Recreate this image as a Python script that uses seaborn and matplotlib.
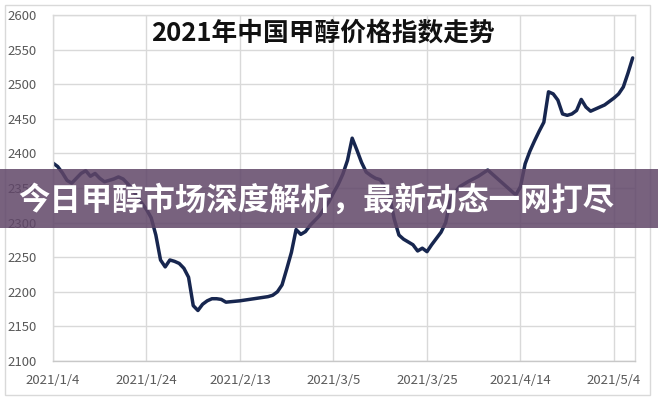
import matplotlib
matplotlib.use("Agg")
import matplotlib.pyplot as plt
from matplotlib.patches import Rectangle
import seaborn as sns
import pandas as pd

title = "2021年中国甲醇价格指数走势"
banner = "今日甲醇市场深度解析，最新动态一网打尽"

dates = ["01-04", "01-05", "01-06", "01-07", "01-08", "01-09", "01-10", "01-11", "01-12", "01-13",
         "01-14", "01-15", "01-16", "01-17", "01-18", "01-19", "01-20", "01-21", "01-22", "01-23",
         "01-24", "01-25", "01-26", "01-27", "01-28", "01-29", "01-30", "01-31", "02-01", "02-02",
         "02-03", "02-04", "02-05", "02-06", "02-07", "02-08", "02-09", "02-10", "02-13", "02-16",
         "02-19", "02-20", "02-21", "02-22", "02-23", "02-24", "02-25", "02-26", "02-27", "02-28",
         "03-01", "03-02", "03-03", "03-04", "03-05", "03-06", "03-07", "03-08", "03-09", "03-10",
         "03-11", "03-12", "03-13", "03-14", "03-15", "03-16", "03-17", "03-18", "03-19", "03-20",
         "03-21", "03-22", "03-23", "03-24", "03-25", "03-26", "03-27", "03-28", "03-29", "03-30",
         "03-31", "04-01", "04-03", "04-05", "04-07", "04-09", "04-11", "04-13", "04-14", "04-15",
         "04-16", "04-17", "04-18", "04-19", "04-20", "04-21", "04-22", "04-23", "04-24", "04-25",
         "04-26", "04-27", "04-28", "04-29", "04-30", "05-02", "05-04", "05-05", "05-06", "05-07",
         "05-08"]
values = [2386, 2381, 2372, 2361, 2357, 2364, 2371, 2375, 2367, 2371,
          2364, 2359, 2361, 2363, 2366, 2363, 2356, 2348, 2338, 2328,
          2319, 2307, 2282, 2246, 2236, 2246, 2244, 2241, 2234, 2221,
          2180, 2173, 2182, 2187, 2190, 2190, 2189, 2185, 2187, 2190,
          2193, 2195, 2200, 2210, 2233, 2257, 2290, 2283, 2287, 2296,
          2303, 2310, 2320, 2330, 2343, 2355, 2370, 2390, 2422, 2405,
          2387, 2373, 2368, 2364, 2362, 2352, 2338, 2305, 2282, 2276,
          2272, 2268, 2259, 2263, 2258, 2268, 2277, 2286, 2300, 2333,
          2344, 2352, 2360, 2367, 2376, 2364, 2352, 2340, 2352, 2385,
          2403, 2418, 2432, 2445, 2489, 2486, 2477, 2457, 2455, 2457,
          2462, 2478, 2467, 2461, 2464, 2470, 2480, 2486, 2496, 2516,
          2538]
tick_dates = ["2021-01-04", "2021-01-24", "2021-02-13", "2021-03-05", "2021-03-25", "2021-04-14", "2021-05-04"]
tick_labels = ["2021/1/4", "2021/1/24", "2021/2/13", "2021/3/5", "2021/3/25", "2021/4/14", "2021/5/4"]
y_ticks = [2100, 2150, 2200, 2250, 2300, 2350, 2400, 2450, 2500, 2550, 2600]

df = pd.DataFrame({"date": pd.to_datetime(["2021-" + d for d in dates]), "value": values})

sns.set_style("white")
plt.rcParams["font.family"] = ["Noto Sans CJK SC", "DejaVu Sans"]

fig = plt.figure(figsize=(6.58, 4.0), dpi=100)
ax = fig.add_axes([53 / 658, 1 - 361 / 400, (635 - 53) / 658, (361 - 15) / 400])

sns.lineplot(data=df, x="date", y="value", ax=ax, color="#17264f", linewidth=2.5)

ax.set_ylim(2100, 2600)
ax.set_xlim(pd.Timestamp("2021-01-04"), pd.Timestamp("2021-05-08 12:00"))
ax.set_yticks(y_ticks)
ax.set_yticklabels([str(v) for v in y_ticks])
ax.set_xticks(pd.to_datetime(tick_dates))
ax.set_xticklabels(tick_labels)
ax.set_xlabel("")
ax.set_ylabel("")
ax.grid(True, color="#d9d9d9", linewidth=1)
ax.set_axisbelow(True)
for s in ax.spines.values():
    s.set_color("#d9d9d9")
    s.set_linewidth(1)
ax.spines["bottom"].set_color("#c8c8c8")
ax.tick_params(axis="both", length=0, colors="#595959", labelsize=9.5)
ax.tick_params(axis="y", pad=12)
ax.tick_params(axis="x", pad=9)

ax.text(0.463, 0.949, title, transform=ax.transAxes, ha="center", va="center",
        fontsize=18.5, fontweight="heavy", color="#111111")

# outer chart border
fig.patches.append(Rectangle((5 / 658, 5 / 400), 645 / 658, 390 / 400, transform=fig.transFigure,
                             fill=False, edgecolor="#d9d9d9", linewidth=1))

# banner overlay
fig.patches.append(Rectangle((0, 1 - 228 / 400), 1, 59 / 400, transform=fig.transFigure,
                             facecolor="#604668", alpha=0.85, edgecolor="none", zorder=10))
fig.text(316 / 658, 1 - 201 / 400, banner, ha="center", va="center", color="white",
         fontsize=22.6, fontweight="heavy", zorder=11)

fig.savefig("out.png", dpi=100)
